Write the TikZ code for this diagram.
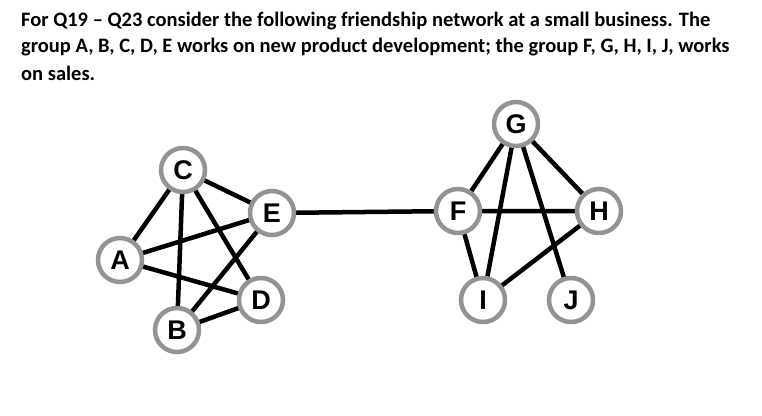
\documentclass[tikz,border=0pt]{standalone}
\usepackage{fontspec}
\setmainfont{Carlito}
\newfontfamily\arialf{Liberation Sans}
\begin{document}
\begin{tikzpicture}[x=1pt,y=-1pt,
  v/.style={circle,draw=gray!85,line width=4.5pt,fill=white,minimum size=44pt,inner sep=0pt,font=\arialf\bfseries\fontsize{27}{27}\selectfont},
  e/.style={line width=4.5pt,black},
  t/.style={anchor=west,inner sep=0pt,font=\bfseries\fontsize{20.5}{20.5}\selectfont}]
\useasboundingbox (0,0) rectangle (762,415);
\node[t] (l1) at (21,21) {For Q19 – Q23 consider the following friendship network at a small business. The};
\node[t] (l2) at (21,47) {group A, B, C, D, E works on new product development; the group F, G, H, I, J, works};
\node[t] (l3) at (21,73) {on sales.};
\coordinate (pC) at (183,170); \coordinate (pE) at (272,213); \coordinate (pA) at (120,260);
\coordinate (pD) at (261,300); \coordinate (pB) at (177,330); \coordinate (pF) at (458,211);
\coordinate (pG) at (516,124); \coordinate (pH) at (599,211); \coordinate (pI) at (483,300);
\coordinate (pJ) at (571,300);
\draw[e] (pA)--(pC) (pA)--(pE) (pA)--(pD) (pC)--(pB) (pC)--(pE) (pC)--(pD) (pE)--(pB) (pB)--(pD)
 (pE)--(pF) (pF)--(pG) (pF)--(pH) (pF)--(pI) (pG)--(pI) (pG)--(pJ) (pG)--(pH) (pH)--(pI);
\foreach \n in {A,B,C,D,E,F,G,H,I,J}{\node[v] (\n) at (p\n) {\n};}
\end{tikzpicture}
\end{document}
